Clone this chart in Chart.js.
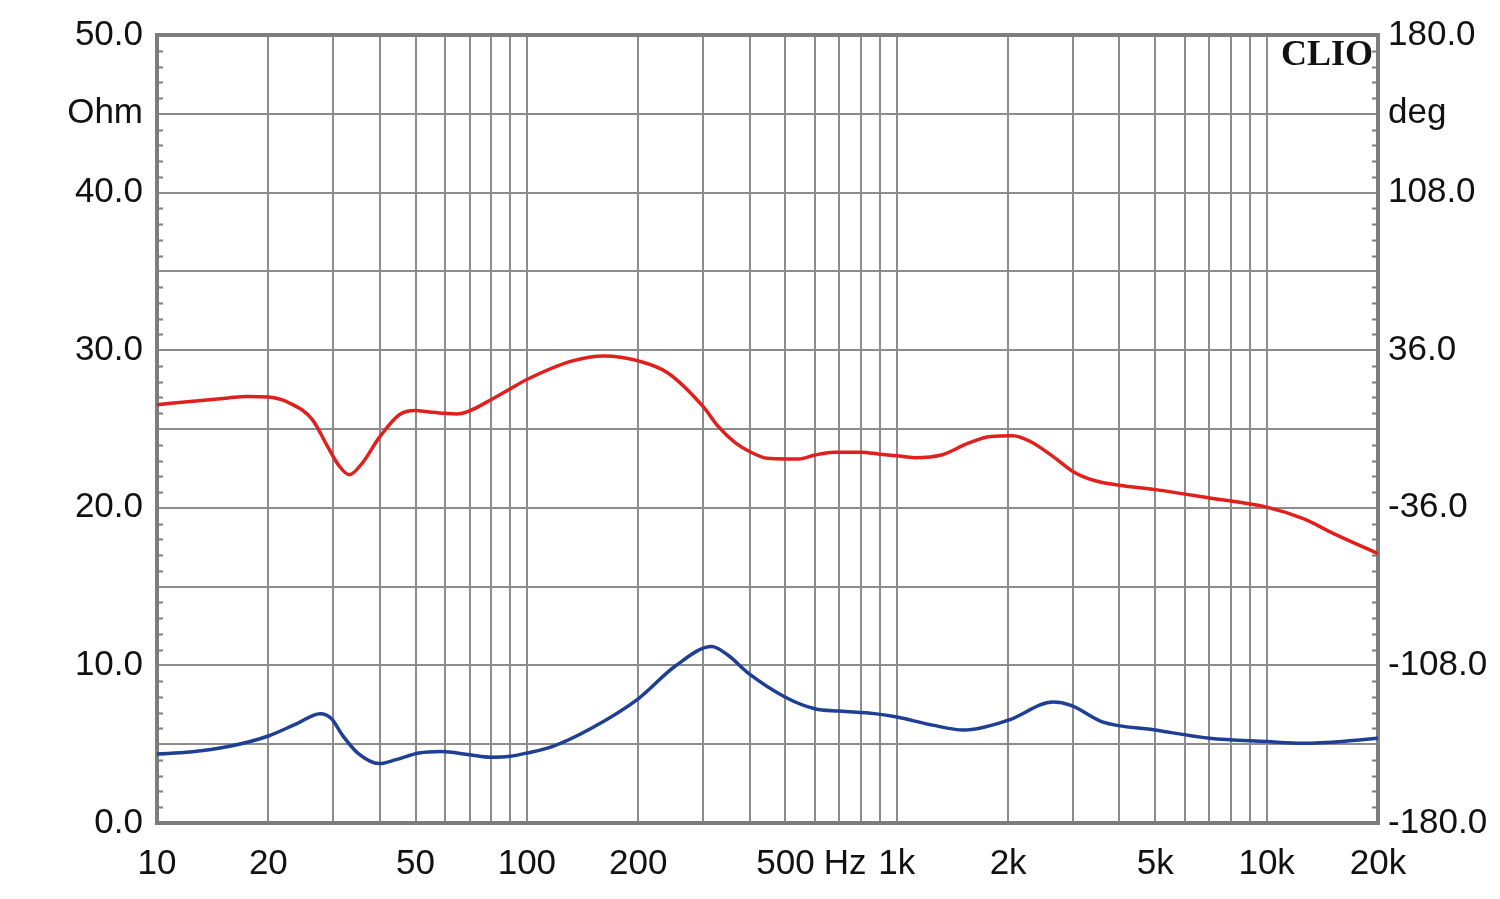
<!DOCTYPE html>
<html>
<head>
<meta charset="utf-8">
<script src="https://cdn.jsdelivr.net/npm/chart.js@4.4.1/dist/chart.umd.min.js"></script>
<style>
  html, body { margin: 0; padding: 0; background: #fff; }
  canvas { display: block; }
</style>
</head>
<body>
<canvas id="clio" width="1500" height="899"></canvas>
<script>
// impedance (blue, Ohm, left) + phase (red, deg, right) — CLIO style plot

// ── DATA ─────────────────────────────────────────
const phaseFreq = [10, 12.3, 15.6, 17.5, 20, 22.8, 26.3, 28.9, 31, 33.1, 35.8, 40, 45.2, 50, 53.8, 60, 64.7, 70, 80, 90,
                   100, 132, 162, 200, 240, 300, 329, 367, 400, 447, 500, 542, 600, 678, 800, 900,
                   1000, 1118, 1320, 1561, 1793, 2061, 2302, 2647, 3000, 3398, 4000, 5000, 7000, 10000, 12560, 15270, 20000];
const phaseDeg  = [11.1, 12.6, 14.2, 14.9, 14.6, 11.9, 4.3, -7.9, -16.6, -20.9, -15.8, -3.6, 6.5, 8.4, 7.9, 7.2, 6.9, 8.3, 13.4, 18.3,
                   22.6, 31.0, 33.4, 31.1, 25.7, 10.1, 1.2, -6.5, -10.3, -13.4, -13.7, -13.7, -11.9, -10.6, -10.6, -11.5,
                   -12.2, -13.1, -11.9, -6.5, -3.4, -3.1, -5.8, -12.6, -19.5, -23.4, -25.7, -27.7, -31.5, -35.7, -41.0, -48.0, -56.9];

const impFreq = [10, 12.3, 15.6, 20, 23.9, 27.6, 29.6, 31.7, 34.9, 40, 44.3, 51, 58.6, 70, 80, 90,
                 100, 117, 149, 200, 252, 316, 348, 400, 500, 600, 700, 870,
                 1000, 1249, 1517, 2000, 2647, 2958, 3594, 5000, 7000, 10000, 12560, 17060, 20000];
const impOhm  = [4.38, 4.5, 4.85, 5.52, 6.31, 6.94, 6.63, 5.58, 4.44, 3.77, 4.02, 4.44, 4.54, 4.33, 4.17, 4.23,
                 4.44, 4.85, 6.0, 7.88, 9.96, 11.2, 10.69, 9.44, 7.98, 7.25, 7.1, 6.94,
                 6.73, 6.21, 5.9, 6.52, 7.67, 7.46, 6.42, 5.9, 5.38, 5.17, 5.06, 5.23, 5.38];

// x grid lines (1-2-3..9 per decade) and labelled ones
const gridFreqs = [10, 20, 30, 40, 50, 60, 70, 80, 90,
                   100, 200, 300, 400, 500, 600, 700, 800, 900,
                   1000, 2000, 3000, 4000, 5000, 6000, 7000, 8000, 9000, 10000, 20000];
const xLabels = { 10: '10', 20: '20', 50: '50', 100: '100', 200: '200', 500: '500',
                  725: 'Hz', 1000: '1k', 2000: '2k', 5000: '5k', 10000: '10k', 20000: '20k' };
const HZ_POS = 725;

const GRID  = '#8c8c8c';
const FRAME = '#7d7d7d';
const FONT  = { family: "'Liberation Sans', Arial, sans-serif", size: 35 };

const pts = (xs, ys) => xs.map((x, i) => ({ x, y: ys[i] }));

// ── PLUGINS ──────────────────────────────────────
const framePlugin = {
  id: 'frame',
  beforeDatasetsDraw(chart) {
    const { ctx, chartArea: a, scales } = chart;
    ctx.save();
    // minor ticks every 1 Ohm, inside both side axes
    ctx.strokeStyle = FRAME;
    ctx.lineWidth = 2;
    for (let v = 1; v < 50; v++) {
      if (v % 5 === 0) continue;
      const y = Math.round(scales.y.getPixelForValue(v)) + 0.5;
      ctx.beginPath();
      ctx.moveTo(a.left, y); ctx.lineTo(a.left + 6, y);
      ctx.moveTo(a.right - 6, y); ctx.lineTo(a.right, y);
      ctx.stroke();
    }
    // outer frame
    ctx.strokeStyle = FRAME;
    ctx.lineWidth = 4;
    ctx.strokeRect(a.left, a.top, a.right - a.left, a.bottom - a.top);
    ctx.restore();
  },
  afterDraw(chart) {
    const { ctx, chartArea: a } = chart;
    ctx.save();
    ctx.fillStyle = '#111';
    ctx.font = "bold 36px 'Liberation Serif', 'Times New Roman', serif";
    ctx.textAlign = 'right';
    ctx.textBaseline = 'top';
    ctx.fillText('CLIO', a.right - 5, a.top + 3);
    ctx.restore();
  }
};

// ── CHART ────────────────────────────────────────
new Chart(document.getElementById('clio'), {
  type: 'line',
  data: {
    datasets: [
      { label: 'Phase', data: pts(phaseFreq, phaseDeg), yAxisID: 'y2',
        borderColor: '#e0201c', borderWidth: 3.5, pointRadius: 0, cubicInterpolationMode: 'monotone' },
      { label: 'Impedance', data: pts(impFreq, impOhm), yAxisID: 'y',
        borderColor: '#1f3f95', borderWidth: 3.5, pointRadius: 0, cubicInterpolationMode: 'monotone' }
    ]
  },
  options: {
    responsive: false,
    animation: false,
    layout: { padding: { top: 35, left: 0, right: 0, bottom: 0 } },
    plugins: { legend: { display: false }, tooltip: { enabled: false } },
    scales: {
      x: {
        type: 'logarithmic',
        min: 10, max: 20000,
        afterBuildTicks: s => { s.ticks = gridFreqs.concat([HZ_POS]).sort((a, b) => a - b).map(v => ({ value: v })); },
        afterFit: s => { s.height = 76; },
        grid: {
          color: c => (c.tick && c.tick.value === HZ_POS) ? 'rgba(0,0,0,0)' : GRID,
          lineWidth: 2, drawTicks: false
        },
        border: { color: FRAME, width: 4 },
        ticks: {
          autoSkip: false, maxRotation: 0, padding: 20,
          color: '#111', font: FONT,
          callback: v => xLabels[v] || ''
        }
      },
      y: {
        position: 'left',
        min: 0, max: 50,
        afterBuildTicks: s => { const t = []; for (let v = 0; v <= 50; v++) t.push({ value: v }); s.ticks = t; },
        afterFit: s => { s.width = 157; },
        grid: {
          color: c => (c.tick && c.tick.value % 5 === 0) ? GRID : 'rgba(0,0,0,0)',
          lineWidth: 2, drawTicks: false
        },
        border: { color: FRAME, width: 4 },
        ticks: {
          autoSkip: false, padding: 14, color: '#111', font: FONT,
          callback: v => v % 10 === 0 ? v.toFixed(1) : (v === 45 ? 'Ohm' : '')
        }
      },
      y2: {
        position: 'right',
        min: -180, max: 180,
        afterBuildTicks: s => { const t = []; for (let i = 0; i <= 50; i++) t.push({ value: -180 + i * 7.2 }); s.ticks = t; },
        afterFit: s => { s.width = 122; },
        grid: { display: false, drawTicks: false },
        border: { color: FRAME, width: 4 },
        ticks: {
          autoSkip: false, padding: 10, color: '#111', font: FONT,
          callback: (v, i) => i % 10 === 0 ? v.toFixed(1) : (i === 45 ? 'deg' : '')
        }
      }
    }
  },
  plugins: [framePlugin]
});
</script>
</body>
</html>
